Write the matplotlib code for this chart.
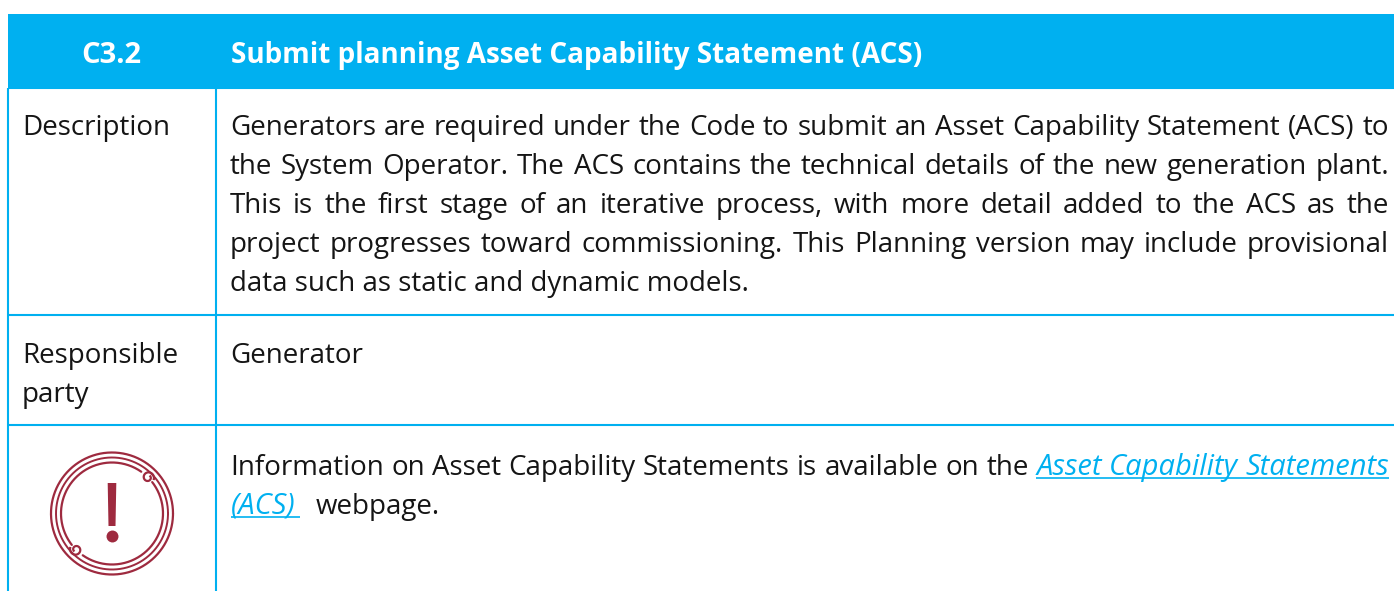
import numpy as np
import matplotlib
matplotlib.use('Agg')
import matplotlib.pyplot as plt
from matplotlib.patches import Rectangle, Polygon

blue = '#00B0F0'
red = '#9E2A3F'
font = 'Open Sans'
size = 19.95
head_size = 20.1
link_size = 21

header = ['C3.2', 'Submit planning Asset Capability Statement (ACS)']
row_labels = ['Description', 'Responsible', 'party']
description = [
    'Generators are required under the Code to submit an Asset Capability Statement (ACS) to',
    'the System Operator. The ACS contains the technical details of the new generation plant.',
    'This is the first stage of an iterative process, with more detail added to the ACS as the',
    'project progresses toward commissioning. This Planning version may include provisional',
    'data such as static and dynamic models.',
]
party = 'Generator'
info = 'Information on Asset Capability Statements is available on the'
link1 = 'Asset Capability Statements'
link2 = '(ACS)'
info2 = 'webpage.'

fig = plt.figure(figsize=(13.94, 5.91), dpi=100)
ax = fig.add_axes([0, 0, 1, 1])
ax.set_xlim(0, 1394)
ax.set_ylim(591, 0)
ax.axis('off')


def text_width(s, **kw):
    kw.setdefault('fontsize', size)
    t = ax.text(0, 0, s, family=font, **kw)
    w = t.get_window_extent(fig.canvas.get_renderer()).width
    t.remove()
    return w


def put(x, y, s, **kw):
    kw.setdefault('color', '#151515')
    kw.setdefault('fontsize', size)
    ax.text(x, y, s, family=font, va='baseline', **kw)


def justify(words, y, x0, x1):
    # words is a list of (word, kwargs), spaces get stretched to fill the line
    widths = [text_width(w, **{k: v for k, v in kw.items() if k != 'color'}) for w, kw in words]
    gap = (x1 - x0 - sum(widths)) / (len(words) - 1)
    x = x0
    out = []
    for (w, kw), wd in zip(words, widths):
        put(x, y, w, **kw)
        out.append((x, wd))
        x += wd + gap
    return out


# table
ax.add_patch(Rectangle((8, 14), 1386, 74, color=blue, lw=0))
for y in [88, 315, 425]:
    ax.plot([8, 1394], [y, y], color=blue, lw=1.5, solid_capstyle='butt')
for x in [8, 216]:
    ax.plot([x, x], [88, 591], color=blue, lw=1.5, solid_capstyle='butt')

put(111, 63, header[0], color='white', weight='bold', ha='center', fontsize=21)
put(231, 63, header[1], color='white', weight='bold', fontsize=head_size)

put(22, 135, row_labels[0])
put(22, 363, row_labels[1])
put(22, 402, row_labels[2])

for i, line in enumerate(description):
    y = 135 + 39 * i
    if i < len(description) - 1:
        justify([(w, {}) for w in line.split()], y, 230, 1389)
    else:
        put(230, y, line)

put(230, 363, party)

# info row with the link
link_style = {'color': blue, 'style': 'italic', 'fontsize': link_size}
words = [(w, {}) for w in info.split()] + [(w, link_style) for w in link1.split()]
pos = justify(words, 475, 230, 1389)
start = pos[-len(link1.split())][0]
end = pos[-1][0] + pos[-1][1]
ax.plot([start, end], [478, 478], color=blue, lw=1.2, solid_capstyle='butt')
put(231, 514, link2, **link_style)
ax.plot([231, 300], [517, 517], color=blue, lw=1.2, solid_capstyle='butt')
put(316, 514, info2)

# warning icon
cx, cy = 112, 513.5


def arc(r, a0, a1, lw=1.6):
    a = np.radians(np.linspace(a0, a1, 200))
    ax.plot(cx + r * np.cos(a), cy - r * np.sin(a), color=red, lw=lw, solid_capstyle='round')


def curl(ang):
    # small spiral sitting on the end of the inner ring
    a = np.radians(ang)
    x0 = cx + 51 * np.cos(a)
    y0 = cy - 51 * np.sin(a)
    t = np.radians(np.linspace(ang - 60, ang + 340, 100))
    r = np.linspace(6, 2.5, 100)
    ax.plot(x0 + r * np.cos(t), y0 - r * np.sin(t), color=red, lw=1.6)


arc(61, 0, 360)
arc(56, 0, 360, lw=1.4)
arc(51, 55, 218)
arc(51, 235, 398)
curl(45)
curl(225)

ax.add_patch(Polygon([(107.7, 483), (116.3, 483), (115.5, 526), (108.5, 526)], color=red, lw=0))
ax.plot([112], [536], 'o', ms=8.6, color=red, mew=0)

fig.savefig('out.png', dpi=100)
